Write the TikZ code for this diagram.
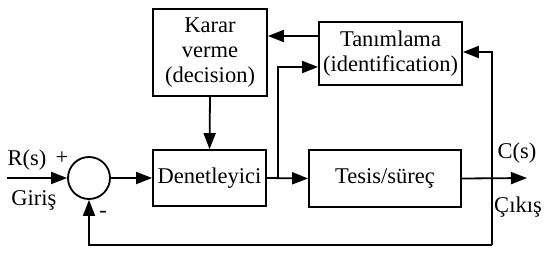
\documentclass[tikz,border=0pt]{standalone}
\usepackage{fontspec}
\setmainfont{Liberation Serif}
\usetikzlibrary{arrows.meta}
\begin{document}
\begin{tikzpicture}[x=1pt,y=-1pt,
  blk/.style={draw,line width=1.8pt,rectangle,inner sep=0pt,align=center,
    font=\fontsize{22.5}{25}\selectfont},
  lbl/.style={font=\fontsize{22.5}{25}\selectfont,inner sep=0pt},
  conn/.style={line width=1.8pt},
  arr/.style={conn,-{Triangle[length=16pt,width=12pt]}}]
\useasboundingbox (0,0) rectangle (557,260);
\node[blk,minimum width=114pt,minimum height=87pt] (karar) at (210,52.5) {Karar\\verme\\(decision)};
\node[blk,minimum width=143pt,minimum height=63pt] (tanim) at (390.5,53.5) {Tanımlama\\(identification)};
\node[blk,minimum width=113pt,minimum height=56pt] (denet) at (209.5,178) {Denetleyici};
\node[blk,minimum width=152pt,minimum height=57pt] (tesis) at (385,178.5) {Tesis/süreç};
\node[draw,line width=1.8pt,circle,minimum size=42pt,inner sep=0pt] (sum) at (89,178) {};
\coordinate (in) at (7,178);
\coordinate (out) at (527,178);
\coordinate (br) at (278,178);
\coordinate (fb) at (492,178);
\coordinate (fbbot) at (492,245);
\coordinate (sumbot) at (89,245);
\draw[arr] (in) -- (sum.west);
\draw[arr] (sum.east) -- (denet.west);
\draw[arr] (denet.east) -- (tesis.west);
\draw[arr] (tesis.east) -- (out);
\draw[arr] (karar.south) -- (denet.north);
\draw[arr] (tanim.west |- 0,36) -- (karar.east |- 0,36);
\draw[arr] (br) |- (tanim.west |- 0,67);
\draw[arr] (fbbot) -- (fb) -- (492,52) -- (tanim.east |- 0,52);
\draw[arr] (fbbot) -- (sumbot) -- (sum.south);
\node[lbl] (rs) at (27,160) {R(s)};
\node[lbl] (plus) at (62,158) {+};
\node[lbl] (giris) at (34,200) {Giriş};
\node[lbl] (minus) at (103,214) {-};
\node[lbl] (cs) at (517,153) {C(s)};
\node[lbl] (cikis) at (518,207) {Çıkış};
\end{tikzpicture}
\end{document}
